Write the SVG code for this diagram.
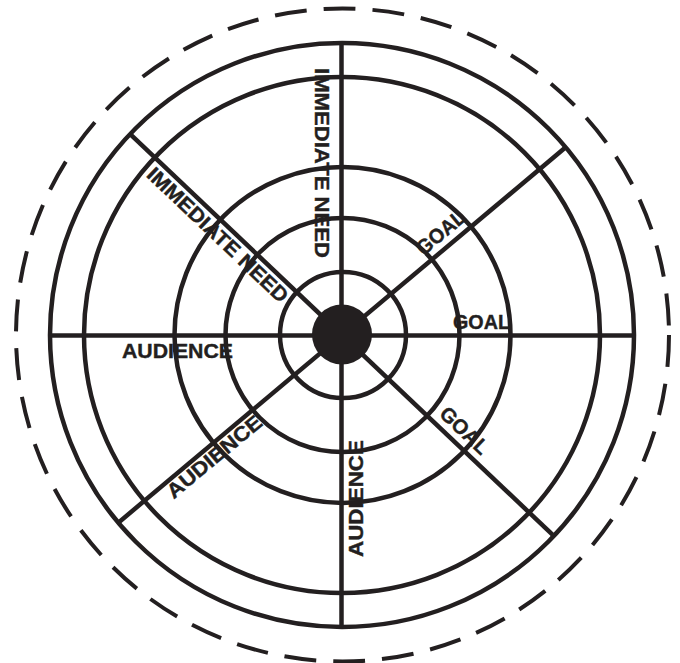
<svg xmlns="http://www.w3.org/2000/svg" width="680" height="663" viewBox="0 0 680 663">
<style>
.ring{fill:none;stroke:#231f20;stroke-width:4.5}
.spoke{stroke:#231f20;stroke-width:4.5;fill:none}
.dash{fill:none;stroke:#231f20;stroke-width:4;stroke-dasharray:32 17}
.lbl{font-family:"Liberation Sans",Arial,Helvetica,sans-serif;font-weight:bold;font-size:20.5px;fill:#231f20;stroke:#231f20;stroke-width:0.4}
</style>
<rect width="680" height="663" fill="#fff"/>
<g id="rings">
<circle class="dash" cx="342.5" cy="335" r="326.5"/>
<circle class="ring" cx="342" cy="335" r="292"/>
<circle class="ring" cx="342" cy="335" r="258"/>
<circle class="ring" cx="342.5" cy="335" r="168"/>
<circle class="ring" cx="342.5" cy="335" r="117"/>
<circle class="ring" cx="343" cy="335" r="63"/>
</g>
<g id="connectors">
<line class="spoke" x1="341.5" y1="43" x2="341.5" y2="627"/>
<line class="spoke" x1="50" y1="335.5" x2="634" y2="335.5"/>
<line class="spoke" x1="565.7" y1="147.3" x2="118.3" y2="522.7"/>
<line class="spoke" x1="130.2" y1="134.1" x2="553.8" y2="535.9"/>
</g>
<g id="hub"><circle cx="342" cy="334.5" r="30" fill="#231f20"/></g>
<g id="label-immediate-need-top">
<text class="lbl" transform="translate(341.5,335) rotate(90)" x="-267" y="26.5" textLength="190" lengthAdjust="spacingAndGlyphs">IMMEDIATE NEED</text>
</g>
<g id="label-immediate-need-diag">
<text class="lbl" transform="translate(342,335) rotate(43.5)" x="-252" y="20" textLength="186" lengthAdjust="spacingAndGlyphs">IMMEDIATE NEED</text>
</g>
<g id="label-audience-left">
<text class="lbl" x="122" y="358" textLength="111" lengthAdjust="spacingAndGlyphs">AUDIENCE</text>
</g>
<g id="label-audience-diag">
<text class="lbl" transform="translate(342,335) rotate(-39.7)" x="-234.5" y="19" textLength="117" lengthAdjust="spacingAndGlyphs">AUDIENCE</text>
</g>
<g id="label-audience-bottom">
<text class="lbl" transform="translate(341.5,335) rotate(-90)" x="-222" y="21.5" textLength="117" lengthAdjust="spacingAndGlyphs">AUDIENCE</text>
</g>
<g id="label-goal-diag-up">
<text class="lbl" transform="translate(342,335) rotate(-40)" x="113" y="-8" textLength="57" lengthAdjust="spacingAndGlyphs">GOAL</text>
</g>
<g id="label-goal-right">
<text class="lbl" x="453" y="328.5" textLength="57" lengthAdjust="spacingAndGlyphs">GOAL</text>
</g>
<g id="label-goal-diag-down">
<text class="lbl" transform="translate(342,335) rotate(43.5)" x="125" y="-8" textLength="59" lengthAdjust="spacingAndGlyphs">GOAL</text>
</g>
</svg>
